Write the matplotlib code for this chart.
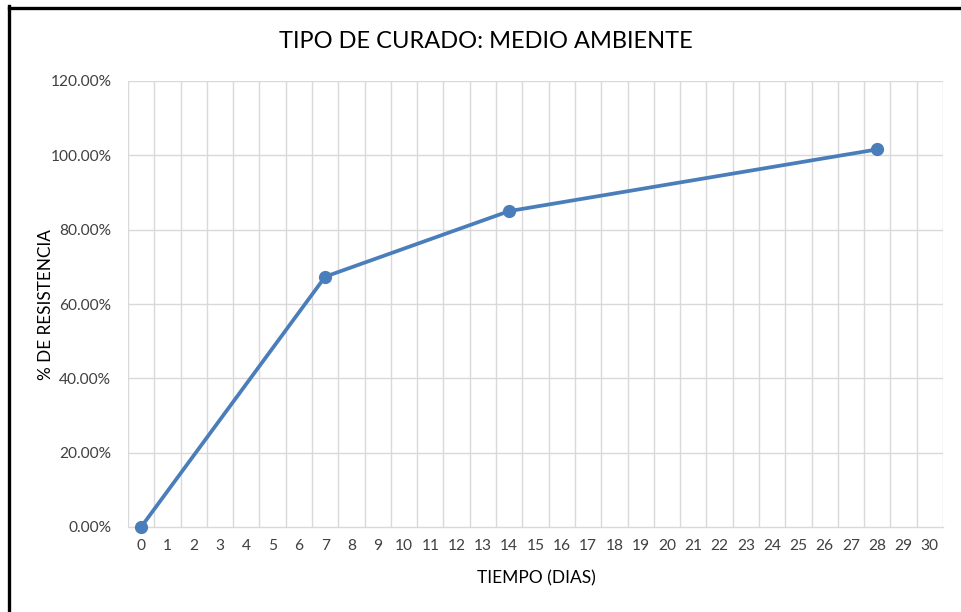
import matplotlib
matplotlib.use("Agg")
import matplotlib.pyplot as plt
from matplotlib.lines import Line2D
from matplotlib.ticker import FuncFormatter

# Data
dias = [0, 7, 14, 28]
resistencia = [0.0, 67.35, 85.0, 101.6]
x_ticks = list(range(0, 31))
y_ticks = [0, 20, 40, 60, 80, 100, 120]
title = "TIPO DE CURADO: MEDIO AMBIENTE"
xlabel = "TIEMPO (DIAS)"
ylabel = "% DE RESISTENCIA"

plt.rcParams['font.family'] = ['Lato', 'DejaVu Sans']

W, H = 961, 612
fig = plt.figure(figsize=(W / 100, H / 100), dpi=100)
ax = fig.add_axes([128 / W, 1 - 527 / H, (943 - 128) / W, (527 - 81) / H])

ax.set_xlim(-0.5, 30.5)
ax.set_ylim(0, 120)

grid_c = '#d9d9d9'
for xv in [t - 0.5 for t in x_ticks] + [30.5]:
    ax.axvline(xv, color=grid_c, lw=1.0, zorder=0)
for yv in y_ticks[1:]:
    ax.axhline(yv, color=grid_c, lw=1.0, zorder=0)

ax.plot(dias, resistencia, color='#4a7ebb', lw=2.7, marker='o', markersize=8.5,
        zorder=3, clip_on=False)

ax.set_xticks(x_ticks)
ax.set_xticklabels([str(t) for t in x_ticks])
ax.set_yticks(y_ticks)
ax.yaxis.set_major_formatter(FuncFormatter(lambda v, p: f"{v:.2f}%"))
ax.tick_params(axis='both', length=0, labelsize=11.2, colors='#404040')
ax.tick_params(axis='x', pad=9)
ax.tick_params(axis='y', pad=12)

for s in ['top', 'right', 'left']:
    ax.spines[s].set_visible(False)
ax.spines['bottom'].set_color(grid_c)
ax.spines['bottom'].set_linewidth(1.0)

fig.text(486 / W, 1 - 42 / H, title, ha='center', va='center', fontsize=17, color='#000000')
fig.text(536 / W, 1 - 578 / H, xlabel, ha='center', va='center', fontsize=12.5, color='#000000')
fig.text(46 / W, 1 - 305 / H, ylabel, ha='center', va='center', rotation=90, fontsize=12.3, color='#000000')

# Black frame (top and left edges)
fig.add_artist(Line2D([8.5 / W, 8.5 / W], [0, 1 - 6 / H], transform=fig.transFigure,
                      color='black', lw=2.4, solid_capstyle='projecting'))
fig.add_artist(Line2D([8.5 / W, 1], [1 - 7.5 / H, 1 - 7.5 / H], transform=fig.transFigure,
                      color='black', lw=2.4, solid_capstyle='projecting'))

fig.savefig("out.png", dpi=100)
